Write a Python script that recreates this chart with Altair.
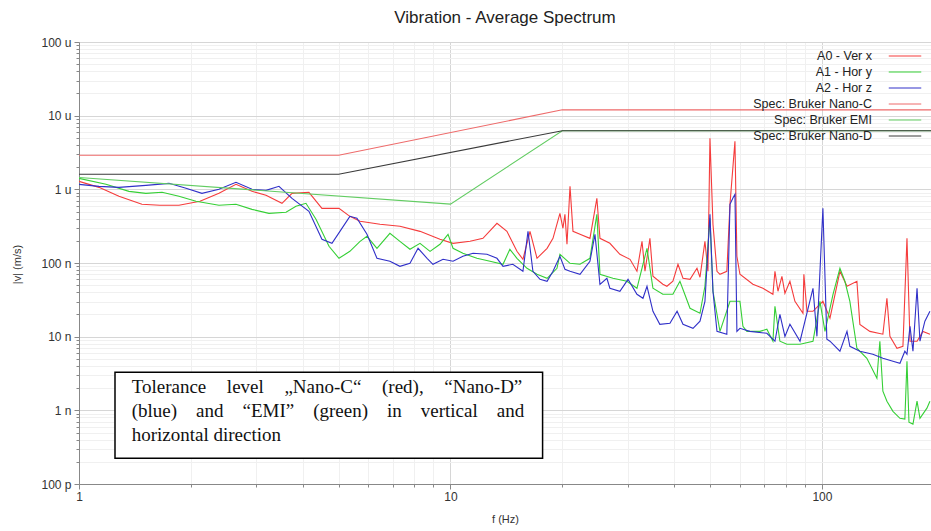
import altair as alt
import pandas as pd

# ---------------- data (frequency in Hz, velocity in um/s) ----------------
a0_freq = [1.000, 1.132, 1.281, 1.477, 1.651, 1.858, 2.117, 2.381, 2.646, 2.922,
           3.187, 3.519, 3.745, 4.159, 4.508, 5.010, 5.36, 5.71, 6.46, 7.31,
           8.28, 9.37, 10.16, 11.29, 12.23, 13.34, 14.19, 15.10, 15.67, 16.37,
           17.10, 18.20, 18.88, 19.71, 20.08, 20.33, 20.59, 20.98, 21.37, 22.32,
           23.74, 24.78, 25.26, 26.86, 28.58, 30.43, 31.77, 32.78, 33.39, 34.43,
           35.08, 37.30, 38.25, 39.70, 40.97, 42.26, 44.14, 46.09, 46.96, 48.42,
           49.33, 49.95, 50.89, 52.17, 53.15, 55.46, 56.55, 58.32, 59.03, 60.15,
           65.17, 69.35, 73.80, 74.73, 76.14, 78.03, 79.50, 82.0, 84.58, 88.9,
           89.4, 91.12, 94.6, 100.6, 105.1, 111.8, 116.8, 124.2, 126.5, 134.6,
           145.9, 149.6, 152.4, 159.2, 165.2, 169.4, 172.6, 180.3, 187.0, 195.3]
a0_vel = [1.284, 1.064, 0.804, 0.626, 0.607, 0.607, 0.688, 0.882, 1.169, 0.939,
          0.829, 0.646, 0.882, 0.911, 0.552, 0.552, 0.430, 0.368, 0.335, 0.315,
          0.269, 0.210, 0.185, 0.197, 0.216, 0.346, 0.269, 0.144, 0.1122, 0.269,
          0.1158, 0.1583, 0.216, 0.472, 0.296, 0.458, 0.1795, 1.098, 0.269, 0.245,
          0.216, 0.755, 0.216, 0.185, 0.1313, 0.1122, 0.0772, 0.197, 0.0772, 0.216,
          0.0660, 0.0514, 0.0483, 0.0565, 0.0960, 0.0620, 0.0600, 0.0848, 0.0640, 0.197,
          0.0772, 4.92, 0.335, 0.0772, 0.0703, 0.0772, 0.626, 4.48, 0.1233, 0.0703,
          0.0514, 0.0454, 0.0376, 0.0772, 0.0413, 0.0660, 0.0388, 0.0565, 0.0302, 0.0208,
          0.0703, 0.0221, 0.0221, 0.0302, 0.0178, 0.0772, 0.0483, 0.0565, 0.0147, 0.0118,
          0.0108, 0.0332, 0.0101, 0.00697, 0.00741, 0.216, 0.00867, 0.00867, 0.0118, 0.0108]

a1_freq = [1.000, 1.182, 1.363, 1.514, 1.673, 1.858, 2.065, 2.381, 2.646, 2.922,
           3.246, 3.608, 3.838, 4.083, 4.345, 4.710, 5.010, 5.36, 5.71, 5.96,
           6.34, 6.87, 7.31, 7.78, 8.28, 8.81, 9.37, 9.85, 10.16, 10.80,
           11.78, 12.78, 13.85, 14.45, 15.10, 16.07, 17.10, 18.20, 19.35, 19.71,
           20.98, 22.32, 23.74, 24.78, 25.26, 27.37, 29.86, 31.77, 33.81, 35.08,
           37.30, 39.70, 41.47, 44.14, 46.96, 48.42, 49.95, 50.89, 53.15, 56.55,
           60.15, 61.28, 62.81, 68.08, 71.08, 73.80, 74.73, 77.06, 80.46, 87.3,
           94.6, 98.77, 101.9, 107.1, 111.8, 115.3, 118.9, 124.2, 132.1, 140.6,
           143.2, 145.9, 149.6, 155.3, 162.2, 167.2, 169.4, 171.5, 175.8, 180.3,
           183.6, 191.7, 195.3]
a1_vel = [1.41, 1.169, 0.939, 0.882, 0.911, 0.804, 0.688, 0.607, 0.626, 0.535,
          0.472, 0.488, 0.588, 0.646, 0.392, 0.1686, 0.1158, 0.144, 0.197, 0.230,
          0.1583, 0.253, 0.197, 0.1535, 0.185, 0.144, 0.1795, 0.245, 0.1583, 0.1355,
          0.1158, 0.1055, 0.0960, 0.1535, 0.1158, 0.0848, 0.0703, 0.0620, 0.0848, 0.1313,
          0.0991, 0.0960, 0.1158, 0.458, 0.0703, 0.0620, 0.0565, 0.0454, 0.1583, 0.0454,
          0.0376, 0.0376, 0.0565, 0.0243, 0.0208, 0.0483, 0.404, 0.0413, 0.0118, 0.0302,
          0.0302, 0.0138, 0.0118, 0.0118, 0.0126, 0.00867, 0.0259, 0.00867, 0.00789, 0.00789,
          0.00867, 0.0302, 0.0118, 0.0376, 0.0848, 0.0565, 0.0302, 0.00697, 0.00509, 0.00273,
          0.00867, 0.00182, 0.00133, 0.00097, 0.00078, 0.00076, 0.00464, 0.00069, 0.00065, 0.00133,
          0.00078, 0.00107, 0.00133]

a2_freq = [1.000, 1.132, 1.281, 1.514, 1.747, 1.941, 2.143, 2.381, 2.646, 2.922,
           3.187, 3.454, 3.745, 4.159, 4.508, 4.797, 5.04, 5.36, 5.60, 5.96,
           6.34, 6.87, 7.31, 7.78, 8.18, 8.65, 8.97, 9.55, 10.16, 10.80,
           11.50, 12.54, 13.34, 13.85, 14.72, 15.67, 16.17, 16.67, 17.42, 18.20,
           18.88, 19.71, 20.33, 20.98, 22.32, 23.74, 24.49, 25.26, 26.37, 26.86,
           28.58, 30.06, 31.77, 32.98, 33.81, 35.08, 36.61, 38.98, 40.74, 42.26,
           44.97, 46.96, 48.42, 49.95, 50.89, 52.17, 55.46, 56.55, 57.55, 58.32,
           59.03, 60.15, 63.98, 71.08, 74.73, 77.06, 79.50, 82.0, 87.3, 94.6,
           96.94, 100.6, 103.1, 105.1, 111.8, 116.8, 118.9, 126.5, 137.1, 145.9,
           155.3, 162.2, 167.2, 169.4, 172.6, 175.8, 180.3, 183.6, 189.3, 195.3]
a2_vel = [1.169, 1.098, 1.064, 1.133, 1.206, 1.032, 0.882, 1.0, 1.245, 1.0,
          0.969, 1.098, 0.755, 0.503, 0.210, 0.185, 0.269, 0.430, 0.404, 0.245,
          0.1158, 0.1055, 0.0902, 0.0991, 0.1583, 0.1158, 0.0960, 0.1122, 0.1055, 0.1233,
          0.1355, 0.1313, 0.1158, 0.0902, 0.0960, 0.0772, 0.269, 0.0772, 0.0600, 0.0565,
          0.0772, 0.1233, 0.0821, 0.0772, 0.0703, 0.1055, 0.245, 0.0514, 0.0620, 0.0454,
          0.0413, 0.0600, 0.0376, 0.0332, 0.0483, 0.0221, 0.0147, 0.0152, 0.0221, 0.0147,
          0.0130, 0.0162, 0.0302, 0.458, 0.0413, 0.0118, 0.0108, 0.626, 0.755, 0.855,
          0.0118, 0.0130, 0.0118, 0.0111, 0.00867, 0.0201, 0.0101, 0.0147, 0.00867, 0.0454,
          0.0101, 0.552, 0.00922, 0.00867, 0.00634, 0.0118, 0.00741, 0.00634, 0.00577, 0.00509,
          0.00464, 0.00436, 0.00634, 0.00577, 0.0138, 0.00634, 0.0454, 0.00867, 0.0162, 0.0221]

nano_c_freq = [1, 5, 20, 200]
nano_c_vel = [2.9, 2.9, 12.0, 12.0]
emi_freq = [1, 10, 20, 200]
emi_vel = [1.45, 0.63, 6.25, 6.25]
nano_d_freq = [1, 5, 20, 200]
nano_d_vel = [1.6, 1.6, 6.25, 6.25]

series_names = ["A0 - Ver x", "A1 - Hor y", "A2 - Hor z",
                "Spec: Bruker Nano-C", "Spec: Bruker EMI", "Spec: Bruker Nano-D"]
series_colors = ["#f53c3c", "#35cf35", "#3030c8", "#ee6a6a", "#62cc62", "#3a3a3a"]

y_major = [1e-4, 1e-3, 1e-2, 1e-1, 1, 10, 100]
y_labels = ["100 p", "1 n", "10 n", "100 n", "1 u", "10 u", "100 u"]
x_major = [1, 10, 100]
x_labels = ["1", "10", "100"]

note_lines = [
    "Tolerance\u2003\u200alevel\u2003\u200a\u201eNano-C\u201c\u2003\u200a(red),\u2003\u200a\u201cNano-D\u201d",
    "(blue)\u2003and\u2003\u201cEMI\u201d\u2003(green)\u2003in\u2003vertical\u2003and",
    "horizontal direction",
]
note_f = [1.386, 1.386, 1.386]
note_v = [0.00171, 0.000806, 0.000381]
box = {"f": [1.25], "f2": [17.7], "v": [0.00329], "v2": [0.000224]}

# ---------------- build tables ----------------
rows = []
for name, fs, vs in [
    (series_names[0], a0_freq, a0_vel),
    (series_names[1], a1_freq, a1_vel),
    (series_names[2], a2_freq, a2_vel),
    (series_names[3], nano_c_freq, nano_c_vel),
    (series_names[4], emi_freq, emi_vel),
    (series_names[5], nano_d_freq, nano_d_vel),
]:
    for f, v in zip(fs, vs):
        rows.append({"series": name, "f": f, "v": v})
df = pd.DataFrame(rows)

note_df = pd.DataFrame({"f": note_f, "v": note_v, "t": note_lines})
box_df = pd.DataFrame(box)

# ticks (major + minor positions)
x_ticks = [k * 10 ** d for d in range(0, 3) for k in range(1, 10) if k * 10 ** d <= 196]
y_ticks = [k * 10.0 ** d for d in range(-4, 2) for k in range(1, 10)] + [100]

major_test = "abs(log(datum.value)/LN10 - round(log(datum.value)/LN10)) < 1e-6"


def label_expr(vals, labels):
    parts = [f"abs(datum.value/{v} - 1) < 1e-6 ? '{l}'" for v, l in zip(vals, labels)]
    return " : ".join(parts) + " : ''"


grid_color = {"condition": {"test": major_test, "value": "#d6d6d6"}, "value": "#f0f0f0"}
tick_size = {"condition": {"test": major_test, "value": 5}, "value": 3}

x_axis = alt.Axis(values=x_ticks, labelExpr=label_expr(x_major, x_labels),
                  title="f (Hz)", grid=True, gridColor=grid_color, tickSize=tick_size,
                  tickColor="#888", domainColor="#888", labelFont="Liberation Sans",
                  labelFontSize=12, labelColor="#333", labelPadding=2, labelFlush=False,
                  labelOverlap=False, titleFont="Liberation Sans", titleFontSize=11,
                  titleFontWeight="normal", titleColor="#333", titleY=35,
                  titleBaseline="middle")
y_axis = alt.Axis(values=y_ticks, labelExpr=label_expr(y_major, y_labels),
                  title="|v| (m/s)", grid=True, gridColor=grid_color, tickSize=tick_size,
                  tickColor="#888", domainColor="#888", labelFont="Liberation Sans",
                  labelFontSize=12, labelColor="#333", labelPadding=3, labelFlush=False,
                  labelOverlap=False, titleFont="Liberation Sans", titleFontSize=11,
                  titleFontWeight="normal", titleColor="#333", titleX=-62, titleY=222,
                  titleAngle=-90, titleAlign="center", titleBaseline="middle")

x_scale = alt.Scale(type="log", domain=[1, 196.6], nice=False)
y_scale = alt.Scale(type="log", domain=[1e-4, 100], nice=False)

lines = alt.Chart(df).mark_line(strokeWidth=1.1, clip=True).encode(
    x=alt.X("f:Q", scale=x_scale, axis=x_axis),
    y=alt.Y("v:Q", scale=y_scale, axis=y_axis),
    color=alt.Color("series:N",
                    scale=alt.Scale(domain=series_names, range=series_colors),
                    sort=series_names,
                    legend=alt.Legend(title=None, orient="top-right", offset=7,
                                      symbolType="M-2.5,0H2.5", symbolSize=169,
                                      symbolStrokeWidth=1, labelAlign="right",
                                      labelOffset={"expr": "-40"}, labelFont="Liberation Sans",
                                      labelFontSize=12.5, labelColor="#222",
                                      rowPadding=2, padding=0)),
)

rect = alt.Chart(box_df).mark_rect(fill="white", stroke="black", strokeWidth=1.5).encode(
    x="f:Q", x2="f2:Q", y="v:Q", y2="v2:Q")

text = alt.Chart(note_df).mark_text(align="left", baseline="alphabetic",
                                    font="Liberation Serif", fontSize=19,
                                    color="#111").encode(
    x="f:Q", y="v:Q", text="t:N")

chart = alt.layer(lines, rect, text).properties(
    width=852, height=442,
    autosize=alt.AutoSizeParams(type="none"),
    padding={"left": 79, "top": 42, "right": 0, "bottom": 47},
    title=alt.TitleParams("Vibration - Average Spectrum", font="Liberation Sans",
                          fontSize=17, fontWeight="normal", color="#222", offset=9),
).configure_view(stroke="#999").configure(background="white")

chart.save("out.html", embed_options={"renderer": "svg", "actions": False})
